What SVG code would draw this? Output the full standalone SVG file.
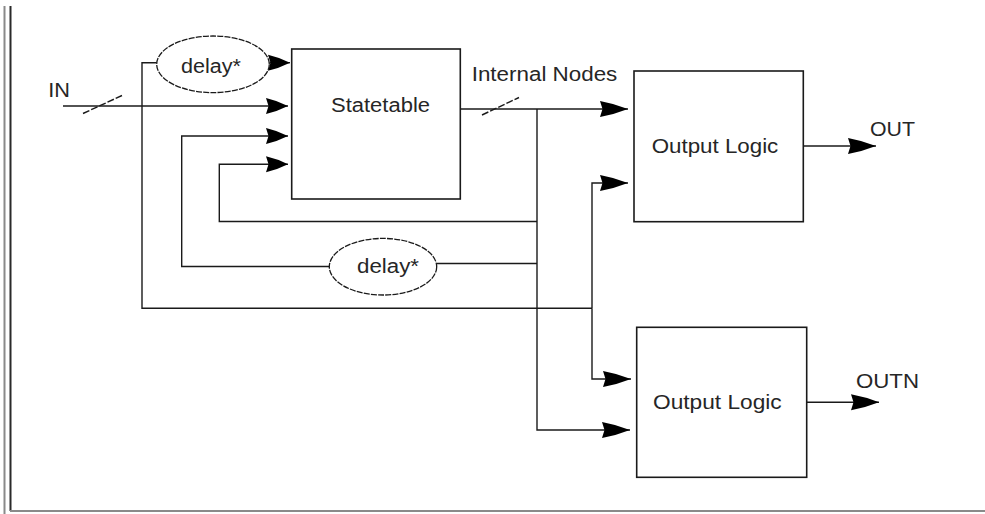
<svg xmlns="http://www.w3.org/2000/svg" width="985" height="514" viewBox="0 0 985 514">
  <style>
    .box { fill: #ffffff; stroke: #1a1a1a; stroke-width: 1.6; }
    .oval { fill: #ffffff; stroke: #1a1a1a; stroke-width: 1.3; stroke-dasharray: 6 1.2; }
    .wire { fill: none; stroke: #1a1a1a; stroke-width: 1.4; }
    .bus { fill: none; stroke: #1a1a1a; stroke-width: 1.4; stroke-dasharray: 7 2; }
    .lbl { font-family: "Liberation Sans", Arial, sans-serif; font-size: 20px; fill: #262626; }
    .frame-light { stroke: #8a8a8a; stroke-width: 2; fill: none; }
    .frame-dark { stroke: #2a2a2a; stroke-width: 2; fill: none; }
  </style>
  <defs>
    <!-- short filled arrowhead for the state table inputs -->
    <marker id="arr" markerUnits="userSpaceOnUse" markerWidth="24" markerHeight="18" refX="22" refY="9" orient="auto" viewBox="0 0 24 18">
      <path d="M0,1 Q11,3.5 22,9 Q11,14.5 0,17 L2.5,9 Z" fill="#000000"/>
    </marker>
    <!-- longer filled arrowhead for the output logic inputs and outputs -->
    <marker id="arrL" markerUnits="userSpaceOnUse" markerWidth="30" markerHeight="18" refX="28" refY="9" orient="auto" viewBox="0 0 30 18">
      <path d="M0,1 Q14,3.5 28,9 Q14,14.5 0,17 L2.5,9 Z" fill="#000000"/>
    </marker>
  </defs>

  <!-- page frame -->
  <g id="frame">
    <line class="frame-light" x1="4.5" y1="6" x2="4.5" y2="514"/>
    <line class="frame-dark" x1="10.5" y1="6" x2="10.5" y2="511"/>
    <line class="frame-light" x1="10" y1="511" x2="985" y2="511"/>
  </g>

  <!-- connectors -->
  <g id="connectors">
    <!-- IN bus into the state table -->
    <path class="wire" d="M63,106 H288" marker-end="url(#arr)"/>
    <line class="bus" x1="83" y1="113.5" x2="122" y2="95.5"/>
    <!-- IN tap to the first delay and down to the output logic -->
    <path class="wire" d="M142,106 V62.7 H157"/>
    <path class="wire" d="M142,106 V308.3 H592"/>
    <path class="wire" d="M592,308.3 V183 H628" marker-end="url(#arrL)"/>
    <path class="wire" d="M592,308.3 V379 H631" marker-end="url(#arrL)"/>
    <!-- delayed IN into the state table -->
    <path class="wire" d="M269.5,62.7 H290" marker-end="url(#arr)"/>
    <!-- internal nodes bus -->
    <path class="wire" d="M460,109 H628" marker-end="url(#arrL)"/>
    <line class="bus" x1="482" y1="115" x2="519" y2="97.5"/>
    <path class="wire" d="M537,109 V430 H630" marker-end="url(#arrL)"/>
    <!-- direct feedback -->
    <path class="wire" d="M537,221.5 H219.3 V164.3 H288" marker-end="url(#arr)"/>
    <!-- delayed feedback -->
    <path class="wire" d="M537,263.5 H437"/>
    <path class="wire" d="M329.3,266.5 H181.7 V136 H288" marker-end="url(#arr)"/>
    <!-- outputs -->
    <path class="wire" d="M803,146 H876" marker-end="url(#arrL)"/>
    <path class="wire" d="M807,402.3 H879" marker-end="url(#arrL)"/>
  </g>

  <g id="in-label">
    <text class="lbl" x="48.3" y="96.7" textLength="21.7" lengthAdjust="spacingAndGlyphs">IN</text>
  </g>

  <g id="delay-in">
    <ellipse class="oval" cx="213" cy="64.3" rx="56.3" ry="28.3"/>
    <text class="lbl" x="181" y="72.7" textLength="60" lengthAdjust="spacingAndGlyphs">delay*</text>
  </g>

  <g id="statetable">
    <rect class="box" x="291.7" y="49" width="168.6" height="150"/>
    <text class="lbl" x="331" y="112" textLength="99" lengthAdjust="spacingAndGlyphs">Statetable</text>
  </g>

  <g id="internal-nodes-label">
    <text class="lbl" x="471.7" y="80.7" textLength="145.6" lengthAdjust="spacingAndGlyphs">Internal Nodes</text>
  </g>

  <g id="delay-feedback">
    <ellipse class="oval" cx="383" cy="266.7" rx="53.7" ry="28.3"/>
    <text class="lbl" x="357" y="272.7" textLength="62" lengthAdjust="spacingAndGlyphs">delay*</text>
  </g>

  <g id="output-logic-1">
    <rect class="box" x="634" y="71" width="169.3" height="150.7"/>
    <text class="lbl" x="651.7" y="153.3" textLength="126.6" lengthAdjust="spacingAndGlyphs">Output Logic</text>
  </g>

  <g id="out-label">
    <text class="lbl" x="870" y="136" textLength="45" lengthAdjust="spacingAndGlyphs">OUT</text>
  </g>

  <g id="output-logic-2">
    <rect class="box" x="636.7" y="327.3" width="170" height="150"/>
    <text class="lbl" x="653" y="409.3" textLength="128.7" lengthAdjust="spacingAndGlyphs">Output Logic</text>
  </g>

  <g id="outn-label">
    <text class="lbl" x="856" y="387.7" textLength="63" lengthAdjust="spacingAndGlyphs">OUTN</text>
  </g>
</svg>
